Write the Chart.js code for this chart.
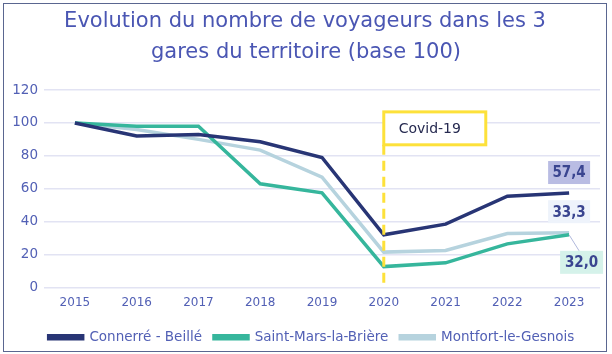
<!DOCTYPE html>
<html><head><meta charset="utf-8">
<script src="https://cdn.jsdelivr.net/npm/chart.js@4/dist/chart.umd.min.js"></script>
<style>
html,body{margin:0;padding:0;background:#fff;}
#wrap{position:absolute;left:0;top:0;width:612px;height:354px;}
#frame{position:absolute;left:3px;top:3px;width:604px;height:349px;border:1.5px solid #5a6690;box-sizing:border-box;pointer-events:none;}
</style></head>
<body><div id="wrap"><canvas id="c" width="612" height="354"></canvas><div id="frame"></div></div>
<script>
const categories = ["2015","2016","2017","2018","2019","2020","2021","2022","2023"];
const connerre = [100, 92, 93, 88.5, 79, 32, 38.5, 55.5, 57.4];
const saintMars = [100, 98, 98, 63, 57.5, 12.7, 15, 26.5, 32.0];
const montfort = [100, 96, 90, 83.5, 67, 21.5, 22.5, 32.8, 33.3];
const seriesNames = ["Connerré - Beillé", "Saint-Mars-la-Brière", "Montfort-le-Gesnois"];
const endLabels = ["57,4", "32,0", "33,3"];
const titleLines = ["Evolution du nombre de voyageurs dans les 3", "gares du territoire (base 100)"];
const covidLabel = "Covid-19";
const covidYear = "2020";

const FONT = "'DejaVu Sans', sans-serif";
const FONTC = "'DejaVu Sans Condensed', 'DejaVu Sans', sans-serif";
const TXT = "#5260b5";

const titlePlugin = {
  id: 'titleText',
  afterDraw(chart) {
    const ctx = chart.ctx;
    ctx.save();
    ctx.fillStyle = "#4a56b3"; ctx.font = "21px " + FONT;
    ctx.textAlign = "center"; ctx.textBaseline = "middle";
    ctx.fillText(titleLines[0], 305, 22);
    ctx.fillText(titleLines[1], 306, 53);
    ctx.restore();
  }
};

const annot = {
  id: 'annot',
  afterDatasetsDraw(chart) {
    const ctx = chart.ctx, x = chart.scales.x, y = chart.scales.y;
    const xc = x.getPixelForValue(categories.indexOf(covidYear));
    const bTop = y.getPixelForValue(106.7), bBot = y.getPixelForValue(86.7);
    ctx.save();
    ctx.strokeStyle = "#fde13a"; ctx.lineWidth = 3; ctx.setLineDash([10, 6]);
    ctx.beginPath(); ctx.moveTo(xc, bBot); ctx.lineTo(xc, y.getPixelForValue(0)); ctx.stroke();
    ctx.setLineDash([]);
    ctx.fillStyle = "#fff"; ctx.fillRect(xc, bTop, 102, bBot - bTop);
    ctx.strokeRect(xc, bTop, 102, bBot - bTop);
    ctx.fillStyle = "#262a50"; ctx.font = "14px " + FONT; ctx.textAlign = "center"; ctx.textBaseline = "middle";
    ctx.fillText(covidLabel, xc + 46, (bTop + bBot) / 2 + 1);
    const last = categories.length - 1;
    const xl = x.getPixelForValue(last);
    const boxes = [
      {v: connerre[last], t: endLabels[0], bg: "#b9bce3", dx: -21, dy: -20.5, w: 42},
      {v: montfort[last], t: endLabels[2], bg: "#eef3fb", dx: -21, dy: -21, w: 42},
      {v: saintMars[last], t: endLabels[1], bg: "#d5f2ea", dx: -9, dy: 27.5, w: 43}
    ];
    const ys = y.getPixelForValue(saintMars[last]);
    ctx.strokeStyle = "#b0b8dc"; ctx.lineWidth = 1;
    ctx.beginPath(); ctx.moveTo(xl, ys); ctx.lineTo(xl + 10, ys + 16); ctx.stroke();
    ctx.font = "bold 15px " + FONTC;
    boxes.forEach(b => {
      const py = y.getPixelForValue(b.v) + b.dy;
      ctx.fillStyle = b.bg; ctx.fillRect(xl + b.dx, py - 11.5, b.w, 23);
      ctx.fillStyle = "#3a4590"; ctx.fillText(b.t, xl + b.dx + b.w / 2, py + 1);
    });
    ctx.restore();
  }
};

new Chart(document.getElementById('c'), {
  type: 'line',
  data: {
    labels: categories,
    datasets: [
      {label: seriesNames[0], data: connerre, borderColor: "#283575", backgroundColor: "#283575", borderWidth: 3.5, pointRadius: 0, tension: 0},
      {label: seriesNames[1], data: saintMars, borderColor: "#36b69c", backgroundColor: "#36b69c", borderWidth: 3.5, pointRadius: 0, tension: 0},
      {label: seriesNames[2], data: montfort, borderColor: "#b6d3de", backgroundColor: "#b6d3de", borderWidth: 3.5, pointRadius: 0, tension: 0}
    ]
  },
  options: {
    responsive: false, animation: false,
    layout: {padding: {left: 13, right: 2, top: 90, bottom: 0}},
    plugins: {
      title: {display: false},
      legend: {position: 'bottom', labels: {color: TXT, font: {family: FONT, size: 13.5}, boxWidth: 34, boxHeight: 3, padding: 12}},
      tooltip: {enabled: false}
    },
    scales: {
      x: {offset: true, afterFit(s) { s.height = 31; }, grid: {display: false}, border: {display: false}, ticks: {color: TXT, font: {family: FONT, size: 12}, padding: 0}},
      y: {min: 0, max: 120, afterFit(s) { s.width = 31; }, ticks: {stepSize: 20, color: TXT, font: {family: FONT, size: 13.5}, padding: 6}, border: {display: false}, grid: {color: "#e2e3f3", lineWidth: 1.5, drawTicks: false}},
      yr: {position: 'right', min: 0, max: 120, afterFit(s) { s.width = 10; }, ticks: {display: false}, border: {display: false}, grid: {display: false}}
    }
  },
  plugins: [annot, titlePlugin]
});
</script></body></html>
